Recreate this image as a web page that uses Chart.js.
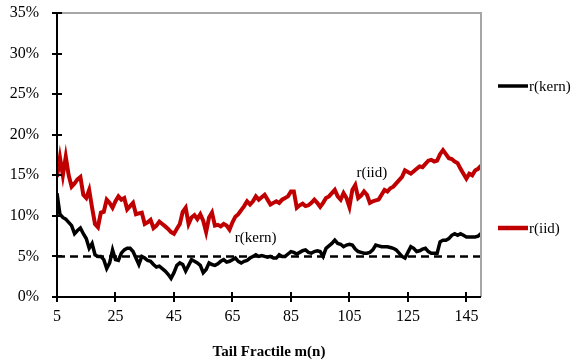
<!DOCTYPE html>
<html>
<head>
<meta charset="utf-8">
<script src="https://cdn.jsdelivr.net/npm/chart.js@4/dist/chart.umd.min.js"></script>
<style>
html,body{margin:0;padding:0;background:#fff;}
#wrap{width:576px;height:364px;position:relative;}
canvas{display:block;}
</style>
</head>
<body>
<div id="wrap"><canvas id="c" width="576" height="364"></canvas></div>
<script>
// ---- data ----
const mStart = 5;
const mEnd = 150;
const xTickLabels = [5, 25, 45, 65, 85, 105, 125, 145];
const yTickLabels = [0, 5, 10, 15, 20, 25, 30, 35];
const thresholdLevel = 5;

const rIid = [
 14.8,17.2,15.0,17.3,15.0,13.6,14.0,14.5,14.8,12.6,
 12.2,13.2,11.0,9.0,8.6,10.4,10.5,12.0,11.6,11.0,
 11.8,12.4,12.0,12.2,10.8,11.2,11.6,10.2,10.3,10.4,
 9.0,9.2,9.5,8.5,8.8,9.3,9.0,8.7,8.4,8.0,
 7.8,8.4,9.0,10.5,11.0,9.0,9.8,10.1,9.6,10.2,
 9.4,8.0,9.8,10.4,8.8,8.9,8.7,9.0,8.8,8.3,
 9.2,9.9,10.2,10.7,11.2,11.8,11.4,11.8,12.4,12.0,
 12.3,12.6,12.0,11.4,11.6,11.8,11.6,12.0,12.2,12.4,
 13.0,13.0,11.0,11.3,11.5,11.2,11.3,11.6,12.0,11.6,
 11.1,11.6,12.2,12.4,12.8,13.2,12.4,12.0,12.8,12.2,
 11.1,13.2,13.8,12.2,12.5,13.0,12.6,11.6,11.8,11.9,
 12.0,12.6,13.2,13.0,13.4,13.6,14.0,14.4,14.8,15.6,
 15.4,15.2,15.5,15.8,16.1,16.0,16.4,16.8,16.9,16.7,
 16.8,17.6,18.1,17.6,17.1,17.0,16.7,16.5,15.8,15.2,
 14.6,15.2,15.0,15.6,15.8,16.2
];
const rKern = [
 12.8,10.2,9.8,9.6,9.2,8.8,7.8,8.2,8.5,7.8,
 7.2,6.0,6.6,5.2,5.0,5.0,4.6,3.5,4.2,5.8,
 4.6,4.5,5.4,5.8,6.0,6.0,5.6,4.8,4.0,5.0,
 4.8,4.5,4.4,4.0,3.7,3.8,3.5,3.2,2.8,2.3,
 3.0,3.9,4.2,4.0,3.2,3.9,4.6,4.4,4.2,3.9,
 3.0,3.4,4.2,4.0,3.9,4.1,4.4,4.6,4.3,4.4,
 4.6,4.8,4.4,4.2,4.4,4.5,4.8,5.0,5.2,5.0,
 5.1,5.0,4.9,5.0,4.8,4.8,5.2,5.0,5.0,5.3,
 5.6,5.5,5.3,5.5,5.7,5.8,5.5,5.4,5.6,5.7,
 5.6,5.0,6.0,6.3,6.6,7.0,6.6,6.5,6.2,6.4,
 6.5,6.4,5.9,5.6,5.5,5.4,5.4,5.5,5.8,6.4,
 6.3,6.2,6.2,6.2,6.1,6.0,5.8,5.4,5.0,4.8,
 5.5,6.2,6.0,5.6,5.7,5.9,6.0,5.6,5.4,5.4,
 5.4,6.8,7.0,7.0,7.2,7.6,7.8,7.6,7.8,7.6,
 7.4,7.4,7.4,7.4,7.5,7.8
];
const seriesNames = ['r(kern)', 'r(iid)'];

// ---- build ----
const toPts = arr => arr.map((v, i) => ({x: mStart + i, y: v}));
const serif = '"Liberation Serif", "Times New Roman", serif';

const decor = {
  id: 'decor',
  afterDraw(chart) {
    const ctx = chart.ctx;
    const ca = chart.chartArea;
    const xs = chart.scales.x, ys = chart.scales.y;
    ctx.save();
    // gray frame top & right
    ctx.strokeStyle = '#a6a6a6';
    ctx.lineWidth = 2;
    ctx.beginPath();
    ctx.moveTo(ca.left, ca.top); ctx.lineTo(ca.right, ca.top); ctx.lineTo(ca.right, ca.bottom);
    ctx.stroke();
    // axes
    ctx.strokeStyle = '#000';
    ctx.lineWidth = 2;
    ctx.beginPath();
    ctx.moveTo(ca.left, ca.top - 1); ctx.lineTo(ca.left, ca.bottom);
    ctx.lineTo(ca.right, ca.bottom);
    ctx.stroke();
    // crossing ticks
    ctx.lineWidth = 2;
    ctx.beginPath();
    yTickLabels.forEach(v => {
      const y = Math.round(ys.getPixelForValue(v));
      ctx.moveTo(ca.left - 5, y); ctx.lineTo(ca.left + 5, y);
    });
    xTickLabels.forEach(v => {
      const x = Math.round(xs.getPixelForValue(v));
      ctx.moveTo(x, ca.bottom - 5); ctx.lineTo(x, ca.bottom + 5);
    });
    ctx.stroke();
    // in-plot labels
    ctx.fillStyle = '#000';
    ctx.font = '15px ' + serif;
    ctx.textBaseline = 'middle';
    ctx.textAlign = 'left';
    ctx.fillText('r(iid)', xs.getPixelForValue(107.4), ys.getPixelForValue(15.3));
    ctx.fillText('r(kern)', xs.getPixelForValue(65.8), ys.getPixelForValue(7.3));
    // legend
    const legend = [
      {name: seriesNames[0], color: '#000000', w: 3.5, y: 86},
      {name: seriesNames[1], color: '#c00000', w: 4.5, y: 228}
    ];
    legend.forEach(l => {
      ctx.strokeStyle = l.color;
      ctx.lineWidth = l.w;
      ctx.beginPath();
      ctx.moveTo(498, l.y); ctx.lineTo(528, l.y);
      ctx.stroke();
      ctx.fillStyle = '#000';
      ctx.fillText(l.name, 529, l.y + 1);
    });
    ctx.restore();
  }
};

new Chart(document.getElementById('c'), {
  type: 'line',
  data: {
    datasets: [
      {
        label: seriesNames[1],
        data: toPts(rIid),
        borderColor: '#c00000',
        borderWidth: 4,
        pointRadius: 0,
        tension: 0,
        fill: false
      },
      {
        label: seriesNames[0],
        data: toPts(rKern),
        borderColor: '#000000',
        borderWidth: 3.5,
        pointRadius: 0,
        tension: 0,
        fill: false
      },
      {
        label: '5%',
        data: [{x: mStart, y: thresholdLevel}, {x: mEnd, y: thresholdLevel}],
        borderColor: '#000000',
        borderWidth: 2.5,
        borderDash: [8, 5],
        pointRadius: 0,
        fill: false
      }
    ]
  },
  options: {
    responsive: false,
    animation: false,
    layout: {padding: {left: 0, right: 95, top: 13, bottom: 0}},
    plugins: {legend: {display: false}, tooltip: {enabled: false}},
    scales: {
      x: {
        type: 'linear',
        min: mStart,
        max: mEnd,
        grid: {display: false},
        border: {display: false},
        afterBuildTicks: s => { s.ticks = xTickLabels.map(v => ({value: v})); },
        afterFit: s => { s.height = 67; s.paddingLeft = 0; s.paddingRight = 0; },
        ticks: {
          color: '#000',
          font: {family: serif, size: 16},
          padding: 2,
          maxRotation: 0,
          autoSkip: false
        },
        title: {
          display: true,
          text: 'Tail Fractile m(n)',
          color: '#000',
          font: {family: serif, size: 15, weight: 'bold'},
          padding: {top: 0, bottom: 3}
        }
      },
      y: {
        min: 0,
        max: 35,
        grid: {display: false},
        border: {display: false},
        afterBuildTicks: s => { s.ticks = yTickLabels.map(v => ({value: v})); },
        afterFit: s => { s.width = 57; s.paddingTop = 0; s.paddingBottom = 0; },
        ticks: {
          color: '#000',
          font: {family: serif, size: 16},
          padding: 10,
          callback: v => v + '%'
        }
      }
    }
  },
  plugins: [decor]
});
</script>
</body>
</html>
